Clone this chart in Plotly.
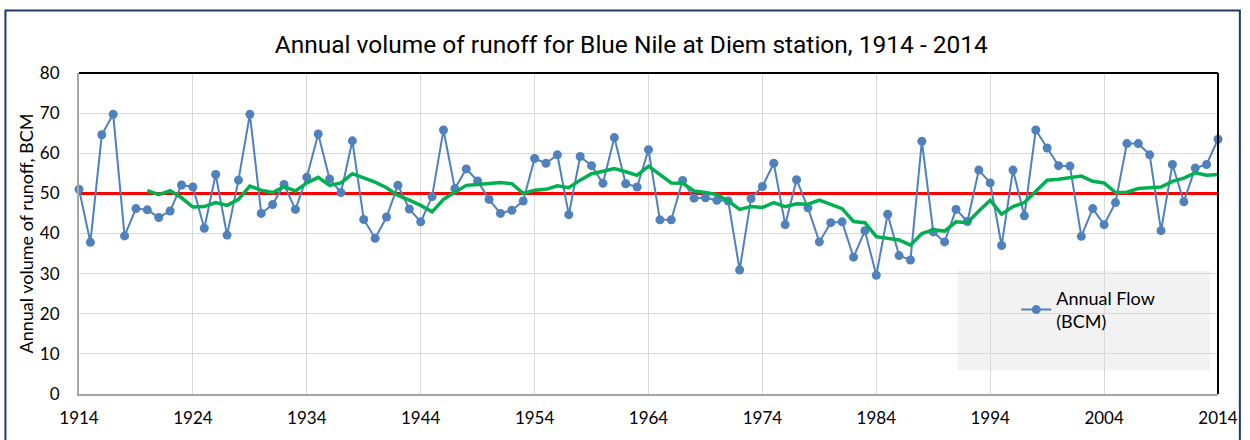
import plotly.graph_objects as go

years = list(range(1914, 2015))

annual_flow = [
    51.0, 37.8, 64.6, 69.7, 39.4, 46.2, 45.9, 44.0, 45.6, 52.1,   # 1914-1923
    51.6, 41.3, 54.7, 39.6, 53.3, 69.7, 45.0, 47.2, 52.2, 46.0,   # 1924-1933
    54.0, 64.8, 53.6, 50.2, 63.1, 43.5, 38.8, 44.1, 52.0, 46.1,   # 1934-1943
    42.9, 49.2, 65.8, 51.2, 56.1, 53.1, 48.5, 45.0, 45.8, 48.1,   # 1944-1953
    58.7, 57.5, 59.6, 44.7, 59.2, 56.9, 52.5, 63.9, 52.4, 51.6,   # 1954-1963
    60.9, 43.4, 43.4, 53.2, 48.8, 48.9, 48.3, 48.1, 30.9, 48.7,   # 1964-1973
    51.7, 57.5, 42.2, 53.4, 46.4, 37.9, 42.7, 42.9, 34.1, 40.7,   # 1974-1983
    29.6, 44.8, 34.5, 33.4, 63.0, 40.4, 37.9, 46.0, 43.0, 55.8,   # 1984-1993
    52.6, 37.0, 55.8, 44.4, 65.8, 61.3, 56.9, 56.8, 39.3, 46.2,   # 1994-2003
    42.2, 47.7, 62.4, 62.4, 59.6, 40.7, 57.2, 47.9, 56.3, 57.2,   # 2004-2013
    63.5,                                                         # 2014
]

ma_years = list(range(1920, 2015))
moving_avg = [
    50.7, 49.7, 50.7, 48.9, 46.6, 46.7, 47.7, 47.0, 48.5, 51.8,   # 1920-1929
    50.8, 50.2, 51.7, 50.6, 52.6, 54.0, 52.0, 52.6, 54.9, 53.9,   # 1930-1939
    52.8, 51.4, 49.5, 48.3, 47.0, 45.4, 48.5, 50.3, 52.0, 52.2,   # 1940-1949
    52.5, 52.7, 52.4, 50.0, 50.8, 51.0, 51.9, 51.4, 53.3, 54.9,   # 1950-1959
    55.5, 56.2, 55.4, 54.5, 56.8, 54.7, 52.6, 52.5, 50.6, 50.2,   # 1960-1969
    49.7, 48.1, 46.0, 46.7, 46.5, 47.7, 46.7, 47.4, 47.3, 48.3,   # 1970-1979
    47.3, 46.2, 43.0, 42.7, 39.2, 38.9, 38.4, 37.1, 40.0, 40.9,   # 1980-1989
    40.6, 42.9, 42.7, 45.6, 48.3, 44.8, 46.7, 47.7, 50.6, 53.3,   # 1990-1999
    53.5, 54.0, 54.3, 53.0, 52.6, 50.2, 50.3, 51.2, 51.4, 51.6,   # 2000-2009
    53.0, 53.8, 55.1, 54.5, 54.7,                                 # 2010-2014
]

mean_level = 50

x_ticks = list(range(1914, 2015, 10))
y_ticks = list(range(0, 81, 10))

title_text = "Annual volume of runoff for Blue Nile at Diem station, 1914 - 2014"
y_title = "Annual volume of runoff, BCM"
legend_name = "Annual Flow<br>(BCM)"

BLUE = "#4f81bd"
GREEN = "#00b050"
RED = "#ff0000"
FONT = "Lato, Roboto, sans-serif"

fig = go.Figure()

fig.add_trace(go.Scatter(
    x=[years[0], years[-1]], y=[mean_level, mean_level],
    mode="lines", line=dict(color=RED, width=3),
    showlegend=False, hoverinfo="skip",
))
fig.add_trace(go.Scatter(
    x=years, y=annual_flow, mode="lines+markers", name=legend_name,
    line=dict(color=BLUE, width=2),
    marker=dict(color=BLUE, size=9),
    cliponaxis=False,
))
fig.add_trace(go.Scatter(
    x=ma_years, y=moving_avg, mode="lines",
    line=dict(color=GREEN, width=3.5),
    showlegend=False,
))

# plot area in pixels: x 79..1225, y 73..396
L, R, T, B = 79, 1225, 73, 396
W, H = R - L, B - T


def px(xp):
    return (xp - L) / W


def py(yp):
    return (B - yp) / H


shapes = [
    # legend background box
    dict(type="rect", xref="paper", yref="paper",
         x0=px(963), x1=px(1217), y0=py(372), y1=py(272),
         fillcolor="#f2f2f2", line=dict(width=0), layer="below"),
    # top and right plot border
    dict(type="line", xref="paper", yref="paper", x0=0, x1=1, y0=1, y1=1,
         line=dict(color="black", width=2)),
    dict(type="line", xref="paper", yref="paper", x0=1, x1=1, y0=0, y1=1,
         line=dict(color="black", width=2)),
    # outer chart border
    dict(type="rect", xref="paper", yref="paper",
         x0=px(5), x1=px(1247), y0=py(460), y1=py(10),
         line=dict(color="#1f3864", width=2), fillcolor="rgba(0,0,0,0)"),
]

fig.update_layout(
    width=1250, height=440,
    margin=dict(l=L, r=1250 - R, t=T, b=440 - B),
    paper_bgcolor="white", plot_bgcolor="white",
    font=dict(family=FONT, size=17, color="black"),
    title=dict(text=title_text, x=0.505, xanchor="center", y=1 - 44 / 440,
               yanchor="middle", yref="container",
               font=dict(family="Roboto, sans-serif", size=24.5, color="black")),
    xaxis=dict(range=[1914, 2014], tickvals=x_ticks, ticktext=[str(v) for v in x_ticks],
               showgrid=True, gridcolor="#d9d9d9", gridwidth=1,
               showline=True, linecolor="#a6a6a6", linewidth=2,
               ticks="", zeroline=False, tickfont=dict(size=17),
               ticklabelstandoff=8),
    yaxis=dict(range=[0, 80], tickvals=y_ticks,
               showgrid=True, gridcolor="#d9d9d9", gridwidth=1,
               showline=True, linecolor="#a6a6a6", linewidth=2,
               ticks="", zeroline=False, tickfont=dict(size=17),
               ticklabelstandoff=14,
               title=dict(text=y_title, font=dict(size=18), standoff=2)),
    legend=dict(x=px(1022), y=py(281), xanchor="left", yanchor="top",
                bgcolor="rgba(0,0,0,0)", font=dict(size=18), itemwidth=30),
    shapes=shapes,
)

fig.write_html(
    "out.html",
    config={"displayModeBar": False},
    post_script="document.body.style.margin='0';document.body.style.overflow='hidden';"
                "document.documentElement.style.overflow='hidden';",
)
